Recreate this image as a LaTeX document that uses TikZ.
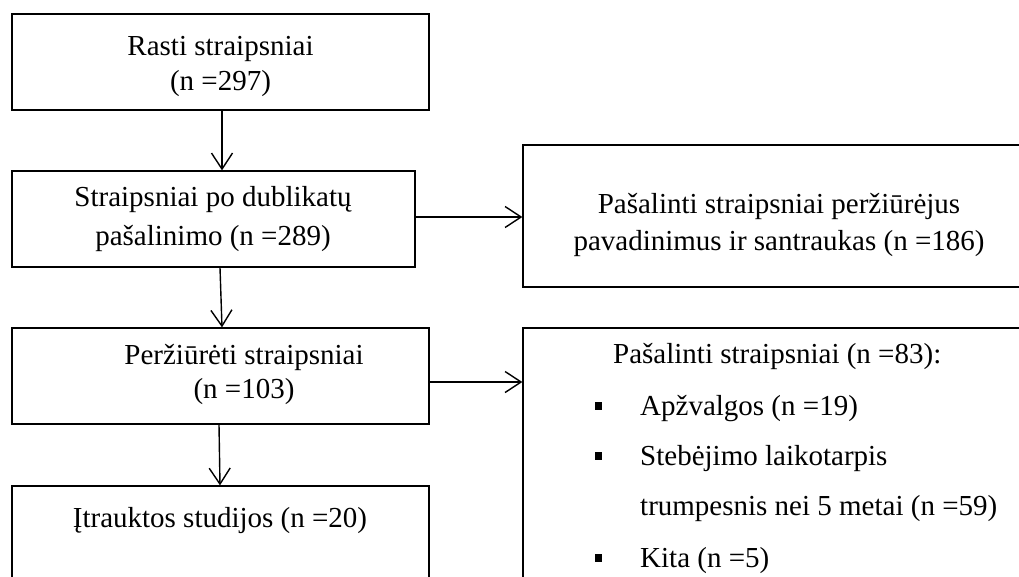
\documentclass[tikz,border=0pt]{standalone}
\usepackage{fontspec}
\setmainfont{Liberation Serif}
\usetikzlibrary{arrows.meta}
\begin{document}
\begin{tikzpicture}[x=1pt,y=-1pt,
  box/.style={draw=black, line width=1.3pt, rectangle, inner sep=0pt},
  txt/.style={anchor=base, inner sep=0pt, font=\fontsize{29}{35}\selectfont},
  ltxt/.style={anchor=base west, inner sep=0pt, font=\fontsize{29}{35}\selectfont},
  arr/.style={line width=1.4pt, -{Straight Barb[length=16pt,width=21pt,line width=1.4pt]}},
  bul/.style={fill=black, rectangle, minimum width=7pt, minimum height=8pt, inner sep=0pt}]
\useasboundingbox (0,0) rectangle (1019,576);
\clip (0,0) rectangle (1019,576);
% boxes
\node[box, minimum width=417pt, minimum height=96pt] (b1) at (220.5,62) {};
\node[box, minimum width=403pt, minimum height=96pt] (b2) at (213.5,219) {};
\node[box, minimum width=417pt, minimum height=96pt] (b3) at (220.5,376) {};
\node[box, minimum width=417pt, minimum height=110pt] (b4) at (220.5,541) {};
\node[box, minimum width=517pt, minimum height=142pt] (r1) at (781.5,216) {};
\node[box, minimum width=517pt, minimum height=272pt] (r2) at (781.5,464) {};
% texts
\node[txt] (t1a) at (220.5,55) {Rasti straipsniai};
\node[txt] (t1b) at (220.5,90) {(n =297)};
\node[txt] (t2a) at (213,206) {Straipsniai po dublikatų};
\node[txt] (t2b) at (213,245) {pašalinimo (n =289)};
\node[txt] (t3a) at (244,364) {Peržiūrėti straipsniai};
\node[txt] (t3b) at (244,398) {(n =103)};
\node[txt] (t4a) at (220,527) {Įtrauktos studijos (n =20)};
\node[txt] (r1a) at (779,213) {Pašalinti straipsniai peržiūrėjus};
\node[txt] (r1b) at (779,250) {pavadinimus ir santraukas (n =186)};
\node[ltxt] (r2h) at (613,363) {Pašalinti straipsniai (n =83):};
\node[bul] (p1) at (598,406) {};
\node[ltxt] (r2a) at (640,415) {Apžvalgos (n =19)};
\node[bul] (p2) at (598,456) {};
\node[ltxt] (r2b) at (640,465) {Stebėjimo laikotarpis};
\node[ltxt] (r2c) at (640,515) {trumpesnis nei 5 metai (n =59)};
\node[bul] (p3) at (598,558) {};
\node[ltxt] (r2d) at (640,567) {Kita (n =5)};
% connectors
\draw[arr] ([xshift=1.5pt]b1.south) -- ([xshift=1.5pt]b2.north -| b1.south);
\draw[arr] ([xshift=6.5pt]b2.south) -- ([xshift=1.5pt]b3.north);
\draw[arr] ([xshift=-1.5pt]b3.south) -- ([xshift=-0.5pt]b4.north);
\draw[arr] ([yshift=2pt]b2.east) -- ([yshift=2pt]b2.east -| r1.west);
\draw[arr] ([yshift=-6pt]b3.east) -- ([yshift=-6pt]b3.east -| r2.west);
\end{tikzpicture}
\end{document}
